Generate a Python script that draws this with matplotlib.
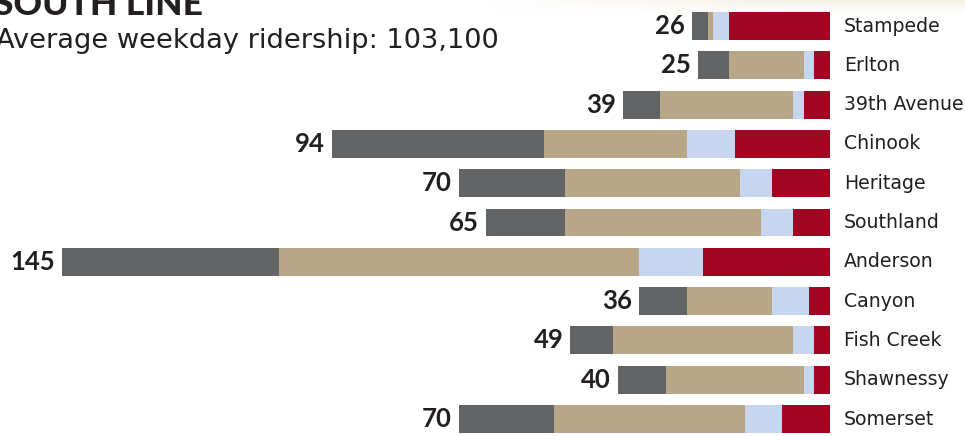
import numpy as np
import matplotlib
matplotlib.use("Agg")
import matplotlib.pyplot as plt

plt.rcParams['font.family'] = ['Lato', 'DejaVu Sans']

# station data (weekday boardings, hundreds), listed top to bottom
stations = ["Stampede", "Erlton", "39th Avenue", "Chinook", "Heritage", "Southland",
            "Anderson", "Canyon", "Fish Creek", "Shawnessy", "Somerset"]
totals = [26, 25, 39, 94, 70, 65, 145, 36, 49, 40, 70]
seg_dark = [3, 6, 7, 40, 20, 15, 41, 9, 8, 9, 18]
seg_tan = [1, 14, 25, 27, 33, 37, 68, 16, 34, 26, 36]
seg_light = [3, 2, 2, 9, 6, 6, 12, 7, 4, 2, 7]
seg_red = [19, 3, 5, 18, 11, 7, 24, 4, 3, 3, 9]

colors = ["#636466", "#b8a688", "#c8d5ee", "#a00622"]
txt = "#231f20"
label_font = ['DejaVu Sans']

W, H = 965, 436
fig = plt.figure(figsize=(W / 100, H / 100), dpi=100)
fig.patch.set_facecolor("white")

# faint beige shading at the top right corner
gax = fig.add_axes([480 / W, (H - 22) / H, (W - 480) / W, 22 / H])
gy = np.linspace(1, 0, 30)[:, None]
gx = np.clip(np.linspace(0, 1.6, 200)[None, :], 0, 1)
img = np.zeros((30, 200, 4))
img[..., 0], img[..., 1], img[..., 2] = 0.90, 0.84, 0.72
img[..., 3] = (gy ** 2) * gx * 0.35
gax.imshow(img, aspect="auto", extent=[0, 1, 0, 1])
gax.axis("off")

# main axes: bars run leftward from the right edge at px 830
px_per_unit = 5.30
right_px = 830
ax = fig.add_axes([0, 0, right_px / W, 1])
ax.set_xlim(right_px / px_per_unit, 0)
row0, step = 26, 39.3
ax.set_ylim((H - row0) / step, -row0 / step)
ax.axis("off")

y = np.arange(len(stations))
left = np.zeros(len(stations))
for vals, c in zip([seg_red, seg_light, seg_tan, seg_dark], colors[::-1]):
    ax.barh(y, vals, left=left, height=0.71, color=c, linewidth=0)
    left += np.array(vals)

label_x = -(844 - right_px) / px_per_unit
for i, t in enumerate(totals):
    ax.text(t + 1.3, i, str(t), ha="right", va="center", fontsize=18.5,
            fontweight="bold", color=txt)
    ax.text(label_x, i, stations[i], ha="left", va="center", fontsize=13.6,
            color=txt, family=label_font, clip_on=False)

fig.text(-6 / W, 1 - 15 / H, "SOUTH LINE", ha="left", va="baseline", fontsize=25.5,
         fontweight="black", color=txt)
fig.text(-4 / W, 1 - 47.5 / H, "Average weekday ridership: 103,100", ha="left",
         va="baseline", fontsize=19.6, color=txt, family=label_font)

fig.savefig("out.png", dpi=100, facecolor="white")
